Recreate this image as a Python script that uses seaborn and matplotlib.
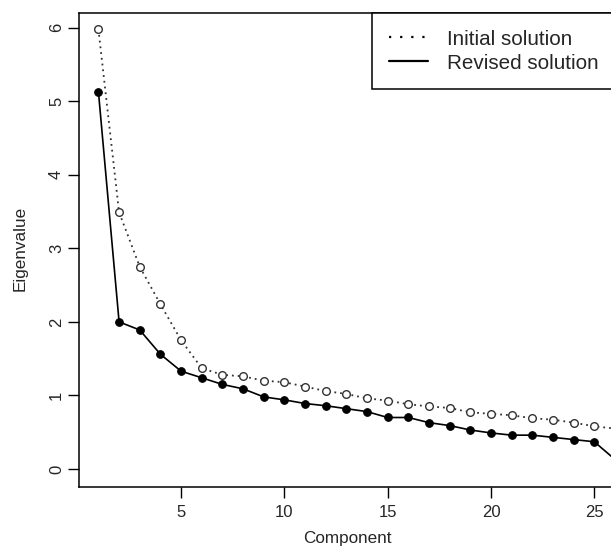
import numpy as np
import pandas as pd
import seaborn as sns
import matplotlib.pyplot as plt
from matplotlib.lines import Line2D

# eigenvalues
component = list(range(1, 27))
initial = [5.98, 3.49, 2.75, 2.24, 1.75, 1.37, 1.28, 1.26, 1.20, 1.18, 1.12, 1.06, 1.02,
           0.96, 0.93, 0.88, 0.85, 0.83, 0.77, 0.75, 0.73, 0.69, 0.67, 0.63, 0.58, 0.55]
revised = [5.13, 2.00, 1.89, 1.56, 1.33, 1.24, 1.15, 1.09, 0.98, 0.94, 0.89, 0.86, 0.82,
           0.78, 0.70, 0.70, 0.63, 0.59, 0.53, 0.49, 0.46, 0.46, 0.43, 0.40, 0.37, 0.13]
x_ticks = [5, 10, 15, 20, 25]
y_ticks = [0, 1, 2, 3, 4, 5, 6]

sns.set_style("ticks")
plt.rcParams['font.family'] = ['Liberation Sans', 'DejaVu Sans']

df = pd.DataFrame({"Component": component, "Initial": initial, "Revised": revised})

fig = plt.figure(figsize=(6.11, 5.5), dpi=100)
# axes run past the right edge of the picture, like the cropped original
ax = fig.add_axes([79 / 611, 63 / 550, (660 - 79) / 611, 474 / 550])

sns.lineplot(data=df, x="Component", y="Initial", ax=ax, color="#333333",
             linestyle=(0, (1, 2.2)), linewidth=1.3, marker="o", markersize=5.5,
             markerfacecolor="white", markeredgecolor="#333333", markeredgewidth=1.0)
sns.lineplot(data=df, x="Component", y="Revised", ax=ax, color="black",
             linestyle="-", linewidth=1.2, marker="o", markersize=5.5,
             markerfacecolor="black", markeredgecolor="black")

ax.set_xlim(0.06, 28.18)
ax.set_ylim(-0.245, 6.2)
ax.set_xticks(x_ticks)
ax.set_yticks(y_ticks)
ax.tick_params(axis="both", length=7.8, width=1, labelsize=12, color="black")
ax.tick_params(axis="y", labelrotation=90, pad=3)
ax.tick_params(axis="x", pad=5)
for lab in ax.get_yticklabels():
    lab.set_verticalalignment("center")

for s in ["left", "bottom", "top", "right"]:
    ax.spines[s].set_visible(True)
    ax.spines[s].set_linewidth(1.1)
    ax.spines[s].set_color("black")

ax.set_xlabel("Component", fontsize=12.3)
ax.set_ylabel("Eigenvalue", fontsize=12.3)
ax.xaxis.set_label_coords((347 - 79) / 581, -44.5 / 474)
ax.yaxis.set_label_coords(-51 / 581, (487 - 248) / 474)

handles = [Line2D([], [], color="black", linestyle=(0, (1, 4)), linewidth=1.6),
           Line2D([], [], color="black", linestyle="-", linewidth=1.6)]
leg = fig.legend(handles, ["Initial solution", "Revised solution"], loc="upper left",
                 bbox_to_anchor=(372 / 611, 0, 0.5, 1 - 13 / 550), bbox_transform=fig.transFigure,
                 mode="expand", fontsize=14.9, frameon=True, fancybox=False, framealpha=1,
                 edgecolor="black", borderaxespad=0, borderpad=0.8,
                 handlelength=1.9, handletextpad=0.9, labelspacing=0.25)
leg.get_frame().set_linewidth(1.1)

fig.savefig("out.png", dpi=100)
